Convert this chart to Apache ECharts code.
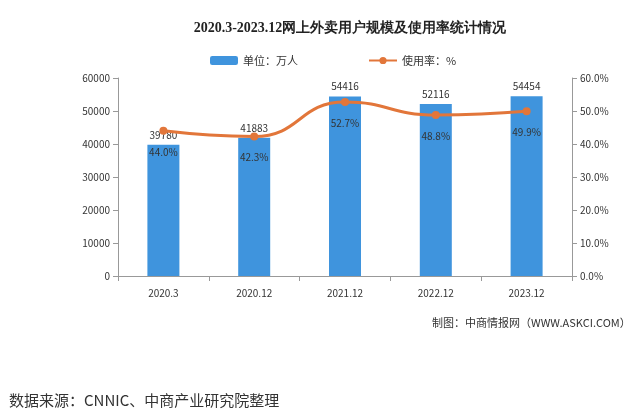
<!DOCTYPE html>
<html>
<head>
<meta charset="utf-8">
<script src="https://cdn.jsdelivr.net/npm/echarts@6/dist/echarts.min.js"></script>
<style>
body{margin:0;background:#fff;}
#main{position:absolute;left:0;top:0;width:644px;height:413px;}
</style>
</head>
<body>
<div id="main"></div>
<script>
// 数据
var categories = ['2020.3', '2020.12', '2021.12', '2022.12', '2023.12'];
var users = [39780, 41883, 54416, 52116, 54454];
var rates = [44.0, 42.3, 52.7, 48.8, 49.9];

var myChart = echarts.init(document.getElementById('main'));
var font = '"Noto Sans CJK SC", sans-serif';
myChart.setOption({
    animation: false,
    backgroundColor: '#fff',
    textStyle: {fontFamily: font},
    title: [{
        text: '2020.3-2023.12网上外卖用户规模及使用率统计情况',
        left: 345, top: 16, textAlign: 'center',
        textStyle: {fontSize: 14, fontWeight: 'bold', color: '#222', fontFamily: 'serif'}
    }, {
        text: '制图：中商情报网（WWW.ASKCI.COM）',
        left: 427, top: 312,
        textStyle: {fontSize: 11, fontWeight: 'normal', color: '#333'}
    }, {
        text: '数据来源：CNNIC、中商产业研究院整理',
        left: 4, top: 388,
        textStyle: {fontSize: 15, fontWeight: 'normal', color: '#333'}
    }],
    legend: {
        top: 50, left: 205, itemGap: 70, itemWidth: 28, itemHeight: 9,
        textStyle: {fontSize: 11, color: '#333'},
        data: ['单位：万人', '使用率：%']
    },
    grid: {left: 118, right: 72, top: 78, bottom: 137},
    xAxis: {
        type: 'category', data: categories,
        axisLine: {lineStyle: {color: '#999'}},
        axisTick: {show: true, lineStyle: {color: '#999'}},
        axisLabel: {fontSize: 10, color: '#333', margin: 12}
    },
    yAxis: [{
        type: 'value', min: 0, max: 60000, interval: 10000,
        axisLine: {show: true, lineStyle: {color: '#999'}},
        axisTick: {show: true},
        splitLine: {show: false},
        axisLabel: {fontSize: 10, color: '#333', formatter: function (v) { return String(v); }}
    }, {
        type: 'value', min: 0, max: 60, interval: 10,
        axisLine: {show: true, lineStyle: {color: '#999'}},
        axisTick: {show: true},
        splitLine: {show: false},
        axisLabel: {fontSize: 10, color: '#333', formatter: function (v) { return v.toFixed(1) + '%'; }}
    }],
    series: [{
        name: '单位：万人', type: 'bar', data: users, barWidth: 32,
        itemStyle: {color: '#3f94dd'},
        label: {show: true, position: 'top', fontSize: 10, color: '#333'}
    }, {
        name: '使用率：%', type: 'line', yAxisIndex: 1, data: rates, smooth: true,
        symbol: 'circle', symbolSize: 8,
        lineStyle: {color: '#e2763a', width: 3},
        itemStyle: {color: '#e2763a'},
        label: {show: true, position: 'bottom', distance: 12, fontSize: 10, color: '#333',
            formatter: function (p) { return p.value.toFixed(1) + '%'; }}
    }]
});
</script>
</body>
</html>
